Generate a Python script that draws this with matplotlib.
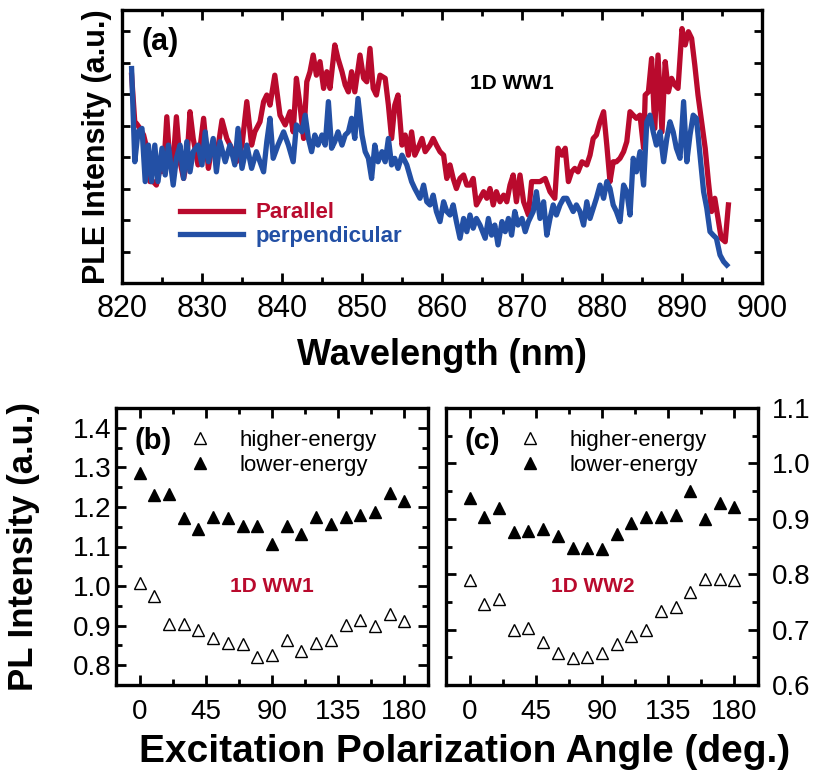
import matplotlib
matplotlib.use("Agg")
import matplotlib.pyplot as plt
from matplotlib.ticker import MultipleLocator

plt.rcParams['font.family'] = ['Liberation Sans', 'DejaVu Sans']

RED = '#B90A2D'
BLUE = '#2350A5'

# ---- panel (a): PLE spectra, 1D WW1 ----
par_wl = [821.2, 821.6, 821.8, 822.25, 822.7, 823.1, 823.5, 823.9, 824.3, 824.75,
          825.2, 825.6, 826.0, 826.4, 826.8, 827.25, 827.7, 828.1, 828.5, 828.9,
          829.5, 830.2, 830.8, 831.2, 831.8, 832.5, 833.1, 833.7, 834.3, 835.0,
          835.6, 836.2, 836.6, 837.25, 837.7, 838.1, 838.5, 839.1, 839.75, 840.4,
          841.0, 841.4, 841.8, 842.25, 842.7, 843.1, 843.5, 843.9, 844.3, 844.75,
          845.2, 845.6, 846.0, 846.6, 847.0, 847.5, 847.9, 848.3, 848.7, 849.1,
          849.75, 850.2, 850.6, 851.0, 851.4, 851.8, 852.25, 852.9, 853.3, 853.7,
          854.1, 854.5, 855.0, 855.4, 855.8, 856.2, 856.6, 857.0, 857.5, 857.9,
          858.5, 858.9, 859.3, 859.75, 860.2, 860.6, 861.0, 861.4, 861.8, 862.25,
          862.7, 863.1, 863.5, 863.9, 864.3, 864.75, 865.2, 865.6, 866.0, 866.4,
          866.8, 867.25, 867.7, 868.1, 868.5, 868.9, 869.3, 869.75, 870.2, 870.8,
          871.2, 871.6, 872.25, 872.9, 873.5, 874.1, 874.5, 875.0, 875.4, 875.8,
          876.2, 876.6, 877.0, 877.5, 878.1, 878.5, 878.9, 879.3, 879.75, 880.2,
          880.6, 881.0, 881.4, 881.8, 882.25, 882.7, 883.1, 883.5, 883.9, 884.3,
          884.75, 885.2, 885.4, 885.8, 886.2, 886.6, 887.0, 887.5, 887.9, 888.3,
          888.7, 889.1, 889.5, 890.0, 890.4, 890.8, 891.2, 891.6, 892.0, 892.5,
          892.9, 893.3, 893.7, 894.1, 894.5, 894.9, 895.4, 895.8]
par_int = [6.6, 5.1, 5.07, 4.91, 4.70, 4.28, 3.22, 3.22, 3.11, 3.64,
           3.53, 5.28, 3.75, 3.85, 5.28, 3.85, 3.32, 3.85, 5.44, 4.59,
           3.75, 5.23, 3.64, 4.28, 3.96, 5.17, 4.59, 4.28, 3.85, 4.38,
           5.76, 4.38, 4.80, 5.12, 5.76, 5.97, 5.65, 6.60, 5.33, 5.02,
           5.44, 4.80, 6.50, 5.65, 4.59, 6.39, 6.71, 7.24, 6.60, 7.03,
           6.18, 6.71, 6.18, 7.56, 7.13, 6.71, 6.29, 6.07, 6.71, 6.07,
           7.24, 6.50, 6.39, 7.45, 6.18, 5.97, 6.60, 6.50, 5.65, 4.59,
           5.65, 5.97, 4.38, 4.70, 4.06, 4.80, 4.06, 4.28, 4.59, 4.17,
           4.38, 4.59, 4.38, 4.17, 4.06, 3.32, 3.75, 3.32, 3.00, 3.32,
           3.43, 3.11, 3.11, 3.32, 2.48, 2.69, 2.90, 2.69, 3.00, 2.48,
           2.90, 2.58, 2.79, 2.58, 3.11, 3.43, 2.58, 3.43, 2.58, 2.16,
           3.22, 3.22, 3.22, 3.32, 2.90, 2.69, 4.28, 4.06, 4.28, 3.22,
           3.53, 3.64, 3.53, 3.85, 3.75, 4.06, 4.59, 4.70, 5.12, 5.44,
           4.38, 3.22, 3.85, 3.85, 3.96, 4.17, 4.49, 5.44, 5.33, 5.23,
           5.33, 4.28, 5.97, 6.07, 7.13, 4.91, 7.24, 4.80, 7.03, 6.07,
           6.50, 6.29, 6.18, 8.08, 7.56, 7.98, 7.77, 6.92, 5.97, 5.02,
           4.28, 3.22, 2.27, 2.69, 2.05, 1.42, 1.31, 2.48]

perp_wl = [821.2, 821.6, 822.0, 822.5, 822.9, 823.3, 823.7, 824.1, 824.5, 825.0,
           825.4, 825.8, 826.4, 826.8, 827.25, 827.7, 828.1, 828.5, 828.9, 829.5,
           830.0, 830.4, 830.8, 831.4, 831.8, 832.25, 832.9, 833.5, 834.1, 834.5,
           835.0, 835.6, 836.2, 836.8, 837.7, 838.1, 838.5, 838.9, 839.5, 840.2,
           840.8, 841.4, 841.8, 842.5, 842.9, 843.3, 843.7, 844.1, 844.5, 845.0,
           845.4, 845.8, 846.2, 846.6, 847.0, 847.5, 847.9, 848.3, 848.7, 849.1,
           849.5, 850.0, 850.4, 850.8, 851.2, 851.6, 852.0, 852.5, 852.9, 853.3,
           853.7, 854.1, 854.5, 855.0, 855.6, 856.2, 856.6, 857.25, 857.7, 858.1,
           858.5, 858.9, 859.3, 859.75, 860.2, 860.6, 861.0, 861.4, 861.8, 862.25,
           862.7, 863.1, 863.5, 863.9, 864.3, 864.75, 865.4, 865.8, 866.2, 866.6,
           867.0, 867.5, 867.9, 868.3, 868.7, 869.1, 869.5, 870.0, 870.4, 870.8,
           871.4, 871.8, 872.25, 872.7, 873.1, 873.5, 873.9, 874.3, 874.75, 875.2,
           875.6, 876.0, 876.4, 876.8, 877.25, 877.7, 878.1, 878.5, 878.9, 879.3,
           879.75, 880.2, 880.6, 881.0, 881.4, 881.8, 882.25, 882.7, 883.1, 883.5,
           883.9, 884.3, 884.75, 885.2, 885.6, 886.0, 886.4, 886.8, 887.25, 887.7,
           888.1, 888.5, 888.9, 889.3, 889.75, 890.2, 890.6, 891.0, 891.4, 891.8,
           892.25, 892.7, 893.1, 893.5, 893.9, 894.3, 894.75, 895.2, 895.6]
perp_int = [6.81, 3.85, 4.80, 4.91, 3.22, 4.38, 3.22, 4.38, 3.22, 4.28,
            3.43, 4.38, 3.11, 3.96, 4.38, 3.32, 4.49, 3.53, 4.17, 4.38,
            3.75, 4.80, 3.85, 4.59, 3.53, 4.49, 3.85, 4.38, 3.75, 4.91,
            3.64, 4.38, 3.64, 4.17, 3.53, 4.49, 5.23, 3.96, 4.38, 4.80,
            4.38, 3.85, 5.02, 4.80, 5.33, 4.59, 4.17, 4.70, 4.38, 4.70,
            4.38, 5.76, 4.28, 4.49, 4.80, 4.38, 4.70, 4.80, 5.23, 4.59,
            5.86, 4.70, 4.17, 3.96, 3.32, 4.38, 3.85, 4.17, 3.85, 4.59,
            3.75, 3.96, 3.64, 4.06, 3.75, 3.22, 3.00, 2.69, 3.11, 2.58,
            2.48, 2.79, 2.27, 1.95, 2.58, 2.27, 2.16, 2.48, 1.95, 1.42,
            2.05, 1.63, 2.16, 1.74, 2.05, 1.84, 1.42, 2.05, 1.52, 1.84,
            1.21, 1.95, 1.63, 2.05, 1.52, 2.27, 1.84, 2.05, 1.63, 1.95,
            2.27, 2.90, 2.05, 2.58, 1.52, 2.05, 2.48, 2.16, 2.48, 2.69,
            2.69, 2.48, 2.27, 2.48, 2.27, 1.84, 2.58, 2.05, 2.37, 2.69,
            3.11, 2.69, 3.22, 3.00, 2.48, 2.27, 1.95, 3.11, 2.90, 2.16,
            3.96, 3.53, 4.17, 3.11, 5.12, 5.33, 4.80, 4.38, 4.80, 3.85,
            4.59, 5.12, 4.80, 4.28, 3.96, 5.76, 3.85, 4.70, 5.33, 5.23,
            4.06, 2.90, 2.37, 1.63, 1.52, 1.42, 0.89, 0.68, 0.57]

# ---- panels (b) and (c): PL vs excitation polarization angle ----
angles = [0, 10, 20, 30, 40, 50, 60, 70, 80, 90,
          100, 110, 120, 130, 140, 150, 160, 170, 180]

ww1_low = [1.286, 1.230, 1.232, 1.172, 1.143, 1.174, 1.172, 1.152, 1.153, 1.107,
           1.152, 1.131, 1.174, 1.156, 1.174, 1.179, 1.187, 1.236, 1.215]
ww1_high = [1.008, 0.974, 0.905, 0.905, 0.888, 0.868, 0.857, 0.853, 0.821, 0.825,
            0.864, 0.836, 0.857, 0.864, 0.902, 0.913, 0.900, 0.929, 0.911]

ww2_low = [0.937, 0.903, 0.919, 0.877, 0.878, 0.881, 0.869, 0.847, 0.847, 0.846,
           0.873, 0.893, 0.903, 0.904, 0.907, 0.951, 0.899, 0.929, 0.922]
ww2_high = [0.790, 0.747, 0.755, 0.700, 0.702, 0.678, 0.658, 0.648, 0.651, 0.657,
            0.674, 0.688, 0.700, 0.734, 0.741, 0.767, 0.791, 0.791, 0.790]

W, H = 816, 774
fig = plt.figure(figsize=(W / 100, H / 100), dpi=100)


def box(l, t, r, b):
    return [l / W, 1 - b / H, (r - l) / W, (b - t) / H]


def style_axes(ax):
    for sp in ax.spines.values():
        sp.set_linewidth(2.4)
    ax.tick_params(which='both', direction='in', top=True, right=True, width=2)
    ax.tick_params(which='major', length=7)
    ax.tick_params(which='minor', length=4)


# panel (a)
axa = fig.add_axes(box(122, 10, 762, 283))
style_axes(axa)
axa.plot(par_wl, par_int, color=RED, lw=3.8, solid_joinstyle='round', label='Parallel')
axa.plot(perp_wl, perp_int, color=BLUE, lw=3.8, solid_joinstyle='round', label='perpendicular')
axa.set_xlim(820, 900)
axa.set_ylim(0, 8.67)
axa.xaxis.set_major_locator(MultipleLocator(10))
axa.xaxis.set_minor_locator(MultipleLocator(5))
axa.set_yticks([1, 2, 3, 4, 5, 6, 7, 8])
axa.set_yticklabels([])
axa.tick_params(axis='y', which='major', length=6)
axa.tick_params(axis='x', labelsize=22, pad=8)
axa.set_xlabel('Wavelength (nm)', fontsize=26, fontweight='bold')
axa.xaxis.set_label_coords(0.5, -0.2)
axa.set_ylabel('PLE Intensity (a.u.)', fontsize=22, fontweight='bold')
axa.yaxis.set_label_coords(-0.015, 0.5)
axa.text(824.8, 7.65, '(a)', fontsize=22, fontweight='bold', ha='center', va='center')
axa.text(868.7, 6.35, '1D WW1', fontsize=15, fontweight='bold', ha='center', va='center')
leg = axa.legend(loc='lower left', bbox_to_anchor=(0.06, 0.06), frameon=False,
                 prop={'size': 16, 'weight': 'bold'}, handlelength=2.8,
                 handletextpad=0.6, labelspacing=0.1)
for txt, c in zip(leg.get_texts(), [RED, BLUE]):
    txt.set_color(c)


def angle_panel(ax, low, high, tag, name, name_x):
    style_axes(ax)
    ax.plot(angles, high, ls='none', marker='^', ms=9, mfc='white', mec='black',
            mew=1.0, label='higher-energy')
    ax.plot(angles, low, ls='none', marker='^', ms=9, mfc='black', mec='black',
            label='lower-energy')
    ax.set_xlim(-16, 196)
    ax.set_xticks([0, 45, 90, 135, 180])
    ax.xaxis.set_minor_locator(MultipleLocator(22.5))
    ax.yaxis.set_major_locator(MultipleLocator(0.1))
    ax.yaxis.set_minor_locator(MultipleLocator(0.05))
    ax.tick_params(labelsize=20)
    ax.tick_params(axis='x', pad=10)
    ax.text(0.06, 0.88, tag, transform=ax.transAxes, fontsize=21,
            fontweight='bold', ha='left', va='center')
    ax.text(name_x, 0.355, name, transform=ax.transAxes, fontsize=15,
            fontweight='bold', color=RED, ha='center', va='center')
    ax.legend(loc='upper left', bbox_to_anchor=(0.19, 0.97), frameon=False,
              fontsize=16, handlelength=1.0, handletextpad=1.3,
              labelspacing=0.2, borderaxespad=0.2)


axb = fig.add_axes(box(116, 408, 428, 685))
angle_panel(axb, ww1_low, ww1_high, '(b)', '1D WW1', 0.5)
axb.set_ylim(0.75, 1.45)
axb.set_ylabel('PL Intensity (a.u.)', fontsize=25, fontweight='bold')
axb.yaxis.set_label_coords(-0.245, 0.5)

axc = fig.add_axes(box(446, 408, 758, 685))
angle_panel(axc, ww2_low, ww2_high, '(c)', '1D WW2', 0.47)
axc.set_ylim(0.6, 1.1)
axc.tick_params(axis='y', labelleft=False, labelright=True, pad=10)

fig.text(465 / W, 1 - 752 / H, 'Excitation Polarization Angle (deg.)',
         fontsize=28, fontweight='bold', ha='center', va='center')

fig.savefig('out.png', dpi=100)
